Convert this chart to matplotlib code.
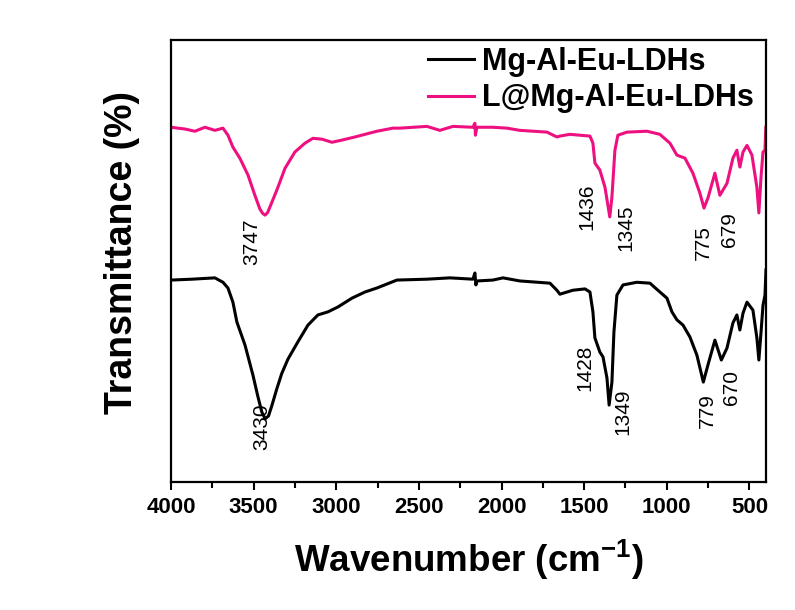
import matplotlib
matplotlib.use("Agg")
import matplotlib.pyplot as plt
from matplotlib.ticker import MultipleLocator

plt.rcParams["font.family"] = ["Liberation Sans", "DejaVu Sans"]
plt.rcParams["mathtext.fontset"] = "custom"
plt.rcParams["mathtext.rm"] = "Liberation Sans"
plt.rcParams["mathtext.bf"] = "Liberation Sans:bold"
plt.rcParams["mathtext.default"] = "bf"

# FTIR spectra: wavenumber (cm^-1) and transmittance (arbitrary, offset for display)
wn_ldh = [4000, 3873, 3734, 3685, 3655, 3625, 3601, 3552, 3504, 3475, 3450, 3430,
          3410, 3390, 3360, 3330, 3292, 3232, 3171, 3111, 3050, 2990, 2905, 2826,
          2754, 2633, 2451, 2312, 2173, 2161, 2155, 2149, 2052, 1991, 1889, 1707,
          1665, 1647, 1568, 1495, 1465, 1447, 1435, 1405, 1386, 1362, 1349, 1332,
          1320, 1302, 1265, 1181, 1102, 1054, 999, 969, 939, 902, 860, 818, 779,
          751, 709, 670, 636, 600, 576, 558, 539, 515, 479, 455, 443, 430, 418,
          406, 400]
t_ldh = [45.7, 45.9, 46.2, 45.2, 43.9, 40.7, 36.2, 31.0, 24.2, 19.5, 15.8, 14.3,
         14.9, 17.2, 21.0, 24.5, 27.8, 31.7, 35.5, 37.8, 38.5, 39.6, 41.6, 43.0,
         43.9, 45.7, 45.9, 46.2, 45.9, 47.3, 44.6, 45.5, 45.7, 46.2, 45.5, 45.0,
         43.4, 42.5, 43.4, 43.7, 43.0, 38.5, 32.6, 29.4, 28.3, 23.5, 17.4, 22.6,
         33.9, 42.3, 44.6, 45.2, 45.0, 43.4, 41.6, 38.5, 36.7, 35.5, 32.8, 28.7,
         22.6, 26.5, 32.1, 27.6, 30.3, 36.0, 37.8, 34.4, 38.2, 40.7, 38.9, 32.6,
         27.6, 33.9, 40.0, 42.3, 48.0]

wn_l_ldh = [4000, 3915, 3855, 3794, 3734, 3685, 3655, 3625, 3583, 3534, 3492, 3462,
            3445, 3430, 3415, 3395, 3359, 3310, 3250, 3189, 3141, 3086, 3026, 2965,
            2887, 2826, 2754, 2657, 2615, 2451, 2373, 2294, 2173, 2161, 2158, 2149,
            2052, 1967, 1889, 1725, 1665, 1647, 1586, 1526, 1465, 1447, 1435, 1405,
            1374, 1345, 1332, 1314, 1296, 1241, 1120, 1042, 981, 939, 890, 842, 800,
            775, 751, 709, 679, 636, 600, 576, 558, 539, 515, 485, 455, 443, 430,
            418, 406, 401]
t_l_ldh = [80.3, 79.9, 79.4, 80.3, 79.6, 80.1, 78.5, 75.8, 73.3, 69.5, 64.9, 61.8,
           60.8, 60.4, 61.0, 62.8, 66.1, 71.0, 74.7, 76.7, 77.8, 77.6, 76.9, 77.4,
           78.1, 78.7, 79.4, 80.1, 80.1, 80.5, 79.6, 80.5, 80.3, 81.2, 78.5, 80.3,
           80.3, 80.1, 79.6, 79.2, 78.1, 78.3, 78.7, 78.5, 78.3, 76.7, 72.2, 70.6,
           66.7, 60.0, 64.5, 75.1, 78.5, 79.2, 79.4, 78.7, 76.7, 74.0, 73.3, 69.9,
           65.4, 62.0, 64.3, 69.9, 64.9, 67.6, 73.3, 75.1, 71.3, 74.7, 76.2, 74.0,
           66.7, 60.9, 69.0, 74.7, 75.1, 80.3]

series_names = ["Mg-Al-Eu-LDHs", "L@Mg-Al-Eu-LDHs"]
series_colors = ["#000000", "#ee1080"]

# Peak annotations: (label, x, y)
peaks_l_ldh = [("3747", 3510, 54.3), ("1436", 1483, 62.2), ("1345", 1247, 57.5),
               ("775", 781, 54.1), ("679", 618, 57.2)]
peaks_ldh = [("3430", 3449, 12.4), ("1428", 1495, 25.8), ("1349", 1265, 15.8),
             ("779", 757, 16.1), ("670", 606, 21.3)]

fig = plt.figure(figsize=(7.95, 6.1), dpi=100)
ax = fig.add_axes([0.215, 0.210, 0.7485, 0.724])

ax.plot(wn_ldh, t_ldh, color=series_colors[0], lw=2.2, label=series_names[0])
ax.plot(wn_l_ldh, t_l_ldh, color=series_colors[1], lw=2.2, label=series_names[1])

for txt, x, y in peaks_l_ldh + peaks_ldh:
    ax.text(x, y, txt, rotation=90, ha="center", va="center", fontsize=15)

ax.set_xlim(4000, 400)
ax.set_ylim(0, 100)
ax.xaxis.set_major_locator(MultipleLocator(500))
ax.xaxis.set_minor_locator(MultipleLocator(250))
ax.set_yticks([])
ax.tick_params(axis="x", which="major", direction="out", length=6, width=1.5,
               labelsize=16, pad=5, top=False)
ax.tick_params(axis="x", which="minor", direction="out", length=4, width=1.5, top=False)
for lbl in ax.get_xticklabels():
    lbl.set_fontweight("bold")
for sp in ax.spines.values():
    sp.set_linewidth(1.6)

ax.set_xlabel("Wavenumber (cm$^{-1}$)", fontsize=26.5, fontweight="bold", labelpad=14)
ax.set_ylabel("Transmittance (%)", fontsize=27, fontweight="bold")
ax.yaxis.set_label_coords(-0.052, 0.52)

leg = ax.legend(loc="upper right", bbox_to_anchor=(1.0, 1.012), frameon=False,
                prop={"weight": "bold", "size": 22}, handlelength=1.5,
                handletextpad=0.25, labelspacing=0.2, borderaxespad=0.0)

fig.savefig("out.png", dpi=100, facecolor="white")
